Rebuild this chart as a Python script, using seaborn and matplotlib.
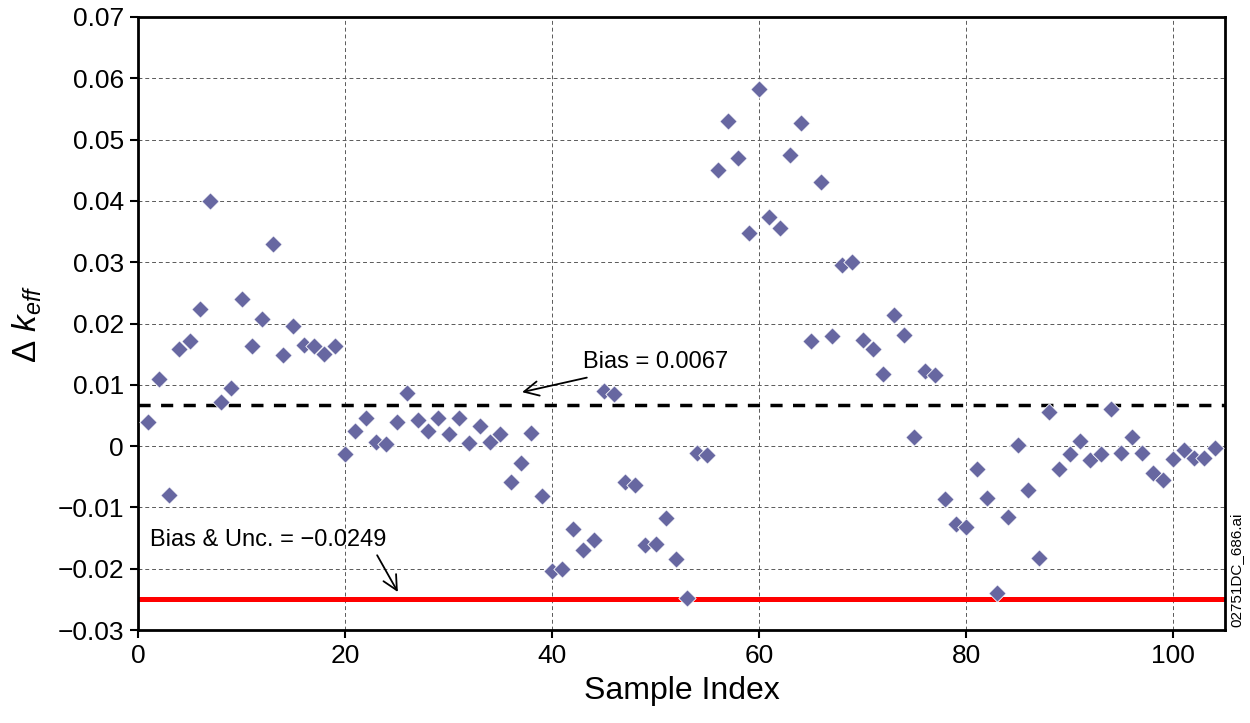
import pandas as pd
import matplotlib
matplotlib.use("Agg")
import matplotlib.pyplot as plt
from matplotlib.ticker import FuncFormatter
import seaborn as sns

# data
sample_index = list(range(1, 105))
delta_keff = [
    0.0039, 0.0110, -0.0080, 0.0159, 0.0172, 0.0223, 0.0400, 0.0072, 0.0094, 0.0240,
    0.0164, 0.0208, 0.0330, 0.0149, 0.0196, 0.0165, 0.0164, 0.0150, 0.0164, -0.0013,
    0.0025, 0.0046, 0.0007, 0.0003, 0.0040, 0.0087, 0.0042, 0.0025, 0.0046, 0.0020,
    0.0046, 0.0005, 0.0033, 0.0006, 0.0020, -0.0059, -0.0027, 0.0022, -0.0082, -0.0204,
    -0.0201, -0.0135, -0.0170, -0.0153, 0.0090, 0.0085, -0.0058, -0.0064, -0.0162, -0.0160,
    -0.0118, -0.0184, -0.0248, -0.0011, -0.0015, 0.0451, 0.0530, 0.0470, 0.0348, 0.0582,
    0.0374, 0.0356, 0.0475, 0.0527, 0.0172, 0.0431, 0.0179, 0.0295, 0.0300, 0.0173,
    0.0159, 0.0118, 0.0214, 0.0182, 0.0015, 0.0122, 0.0116, -0.0086, -0.0127, -0.0132,
    -0.0038, -0.0084, -0.0240, -0.0116, 0.0001, -0.0072, -0.0183, 0.0055, -0.0037, -0.0013,
    0.0008, -0.0023, -0.0013, 0.0060, -0.0011, 0.0015, -0.0011, -0.0044, -0.0056, -0.0021,
    -0.0007, -0.0019, -0.0019, -0.0003,
]
bias = 0.0067
bias_unc = -0.0249

df = pd.DataFrame({"Sample Index": sample_index, "dk": delta_keff})

sns.set_style("ticks")
plt.rcParams["font.family"] = ["Liberation Sans", "DejaVu Sans"]
plt.rcParams["mathtext.fontset"] = "custom"
plt.rcParams["mathtext.rm"] = "Liberation Sans"
plt.rcParams["mathtext.it"] = "Liberation Sans:italic"
plt.rcParams["axes.unicode_minus"] = True
for key in ["text.color", "axes.labelcolor", "xtick.color", "ytick.color"]:
    plt.rcParams[key] = "black"

fig = plt.figure(figsize=(12.5, 7.23), dpi=100)
ax = fig.add_axes([0.1104, 0.1286, 0.8696, 0.8479])

ax.axhline(bias, color="black", lw=2.5, linestyle=(0, (3.5, 3)), zorder=2)
ax.axhline(bias_unc, color="#ff0000", lw=3.6, zorder=2)

sns.scatterplot(data=df, x="Sample Index", y="dk", marker="D", s=78,
                color="#6767a1", edgecolor="white", linewidth=0.6, ax=ax, zorder=3)

ax.set_xlim(0, 105)
ax.set_ylim(-0.03, 0.07)
ax.set_xticks([0, 20, 40, 60, 80, 100])
ax.set_yticks([-0.03 + 0.01 * i for i in range(11)])


def fmt(v, pos):
    if abs(v) < 1e-9:
        return "0"
    return f"{v:.2f}".replace("-", "\u2212")


ax.yaxis.set_major_formatter(FuncFormatter(fmt))
ax.grid(True, color="0.35", lw=0.7, linestyle=(0, (4, 3)))
ax.set_axisbelow(True)

for sp in ax.spines.values():
    sp.set_linewidth(2)
    sp.set_color("black")
ax.tick_params(axis="both", direction="out", length=6, width=1.5, labelsize=19, pad=4)

ax.set_xlabel("Sample Index", fontsize=23, labelpad=6)
ax.set_ylabel("\u0394 $k_{eff}$", fontsize=24, labelpad=10)

ax.annotate("Bias = 0.0067", xy=(37.1, 0.0088), xytext=(43.0, 0.0137),
            fontsize=17, va="center", ha="left",
            arrowprops=dict(arrowstyle="->", color="black", lw=1.3,
                            mutation_scale=26, shrinkA=4, shrinkB=0))
ax.annotate("", xy=(25.1, -0.0238), xytext=(23.1, -0.0178),
            arrowprops=dict(arrowstyle="->", color="black", lw=1.3,
                            mutation_scale=26, shrinkA=0, shrinkB=0))
ax.text(1.2, -0.0153, "Bias & Unc. = \u22120.0249", fontsize=17, va="center", ha="left")

fig.text(0.9895, 0.133, "02751DC_686.ai", rotation=90, fontsize=11,
         ha="center", va="bottom")

fig.savefig("out.png", dpi=100)
